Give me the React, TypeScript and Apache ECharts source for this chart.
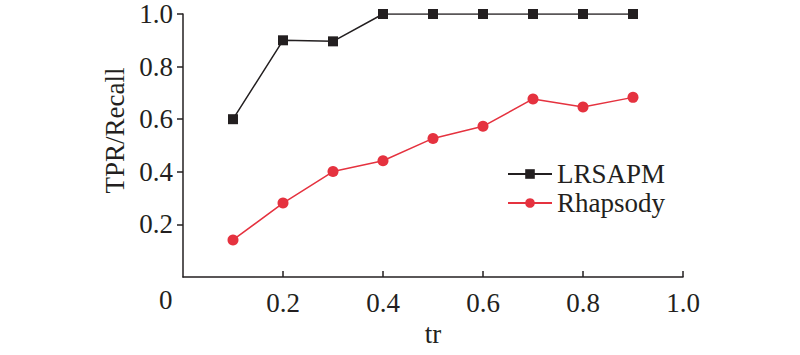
import React, { useEffect, useRef } from "react";
import * as echarts from "echarts";

const xValues = [0.1, 0.2, 0.3, 0.4, 0.5, 0.6, 0.7, 0.8, 0.9];
const lrsapm = [0.6, 0.9, 0.896, 1.0, 1.0, 1.0, 1.0, 1.0, 1.0];
const rhapsody = [0.141, 0.281, 0.401, 0.442, 0.527, 0.573, 0.677, 0.646, 0.683];
const seriesNames = ["LRSAPM", "Rhapsody"];

const FONT = "Liberation Serif";
const AXIS_COLOR = "#231f20";

export default function App() {
  const ref = useRef<HTMLDivElement>(null);
  useEffect(() => {
    document.body.style.margin = "0";
    if (!ref.current) return;
    const chart = echarts.init(ref.current, undefined, { renderer: "svg" });
    const labelStyle = { fontFamily: FONT, fontSize: 27, color: AXIS_COLOR };
    chart.setOption({
      animation: false,
      backgroundColor: "#ffffff",
      textStyle: { fontFamily: FONT },
      grid: { left: 183, right: 117, top: 14, bottom: 78, containLabel: false, outerBoundsMode: "none" },
      legend: {
        orient: "vertical",
        left: 502,
        top: 155,
        itemWidth: 44,
        itemHeight: 12,
        itemGap: 1,
        textStyle: { ...labelStyle, lineHeight: 28 },
        data: seriesNames,
      },
      xAxis: {
        type: "value",
        min: 0,
        max: 1,
        interval: 0.2,
        name: "tr",
        nameLocation: "middle",
        nameGap: 40,
        nameTextStyle: labelStyle,
        axisLine: { show: true, lineStyle: { color: AXIS_COLOR, width: 1.5 } },
        axisTick: { show: true, inside: true, length: 6, lineStyle: { color: AXIS_COLOR, width: 1.5 } },
        axisLabel: {
          ...labelStyle,
          margin: 12,
          showMinLabel: false,
          formatter: (v: number) => (v === 0 ? "" : v.toFixed(1)),
        },
        splitLine: { show: false },
      },
      yAxis: {
        type: "value",
        min: 0,
        max: 1,
        interval: 0.2,
        name: "TPR/Recall",
        nameLocation: "middle",
        nameGap: 50,
        nameTextStyle: { ...labelStyle, padding: [0, 0, 0, 30] },
        axisLine: { show: true, lineStyle: { color: AXIS_COLOR, width: 1.5 } },
        axisTick: { show: true, length: 6, lineStyle: { color: AXIS_COLOR, width: 1.5 } },
        axisLabel: {
          ...labelStyle,
          margin: 10,
          showMinLabel: false,
          formatter: (v: number) => (v === 0 ? "" : v.toFixed(1)),
        },
        splitLine: { show: false },
      },
      graphic: [
        {
          type: "text",
          left: 159,
          top: 286,
          style: { text: "0", fontFamily: FONT, fontSize: 27, fill: AXIS_COLOR },
        },
      ],
      series: [
        {
          name: seriesNames[0],
          type: "line",
          data: xValues.map((x, i) => [x, lrsapm[i]]),
          symbol: "rect",
          symbolSize: 10,
          itemStyle: { color: "#231f20" },
          lineStyle: { color: "#231f20", width: 1.5 },
        },
        {
          name: seriesNames[1],
          type: "line",
          data: xValues.map((x, i) => [x, rhapsody[i]]),
          symbol: "circle",
          symbolSize: 11,
          itemStyle: { color: "#e5323f" },
          lineStyle: { color: "#e5323f", width: 1.5 },
        },
      ],
    });
    return () => chart.dispose();
  }, []);
  return <div ref={ref} style={{ width: 800, height: 355 }} />;
}
